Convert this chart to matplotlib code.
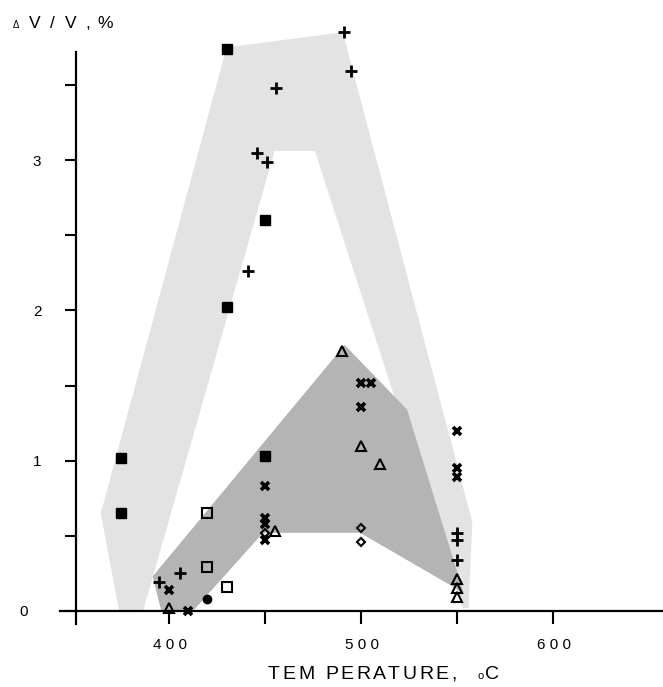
import matplotlib
matplotlib.use("Agg")
import matplotlib.pyplot as plt

FONT = "Liberation Sans"
W, H = 663, 687

# shaded bands (temperature, dV/V %)
light_x = [374, 364.5, 430, 490.5, 558, 556, 553, 476, 455, 386.5]
light_y = [0, 0.65, 3.75, 3.85, 0.59, 0.02, 0.02, 3.06, 3.06, 0]
dark_x = [391.5, 396, 412.5, 449, 499.5, 553.5, 524, 491.5]
dark_y = [0.23, 0, 0, 0.52, 0.52, 0.12, 1.34, 1.77]

# measured points by symbol
sqf_x = [430, 450, 430, 375, 375, 450]
sqf_y = [3.74, 2.60, 2.02, 1.02, 0.65, 1.03]
plus_x = [491, 495, 456, 446, 451, 441, 395, 405.5, 550, 550, 550]
plus_y = [3.85, 3.59, 3.48, 3.05, 2.99, 2.26, 0.19, 0.25, 0.52, 0.47, 0.34]
cross_x = [400, 410, 450, 450, 450, 450, 500, 505, 500, 550, 550, 550]
cross_y = [0.14, 0.0, 0.83, 0.62, 0.58, 0.47, 1.52, 1.52, 1.36, 1.20, 0.95, 0.89]
tri_x = [400, 490, 500, 510, 455, 550, 550, 550]
tri_y = [0.02, 1.73, 1.10, 0.98, 0.53, 0.21, 0.15, 0.09]
dia_x = [450, 500, 500]
dia_y = [0.52, 0.55, 0.46]
sqo_x = [420, 420, 430]
sqo_y = [0.65, 0.29, 0.16]
dot_x = [420]
dot_y = [0.08]

xticks = [400, 450, 500, 550, 600]
xlabels = {400: "4 0 0", 500: "5 0 0", 600: "6 0 0"}
yticks = [0, 0.5, 1, 1.5, 2, 2.5, 3, 3.5]
ylabels = {0: "0", 1: "1", 2: "2", 3: "3"}

fig = plt.figure(figsize=(W / 100, H / 100), dpi=100)
ax = fig.add_axes([0, 0, 1, 1])
ax.patch.set_alpha(0)
ax.set_xlim(312, 657.3)
ax.set_ylim(-0.506, 4.065)

ax.fill(light_x, light_y, color="#e3e3e3", lw=0, zorder=1)
ax.fill(dark_x, dark_y, color="#b4b4b4", lw=0, zorder=1.5)

kw = dict(ls="none", color="black", zorder=3, clip_on=False)
ax.plot(sqf_x, sqf_y, marker="s", ms=6.5, mfc="black", mec="black", **kw)
ax.plot(plus_x, plus_y, marker="+", ms=8, mew=2, **kw)
ax.plot(cross_x, cross_y, marker="x", ms=6, mew=2.6, **kw)
ax.plot(tri_x, tri_y, marker="^", ms=6.5, mfc="none", mew=1.5, **kw)
ax.plot(dia_x, dia_y, marker="D", ms=4.5, mfc="none", mew=1.5, **kw)
ax.plot(sqo_x, sqo_y, marker="s", ms=6.5, mfc="none", mew=1.5, **kw)
ax.plot(dot_x, dot_y, marker="o", ms=6, mfc="black", **kw)

# axes: spines crossing like the original drawing
for s in ["top", "right"]:
    ax.spines[s].set_visible(False)
ax.spines["left"].set_position(("data", 351.6))
ax.spines["left"].set_bounds(-0.09, 3.72)
ax.spines["bottom"].set_position(("data", 0))
ax.spines["bottom"].set_bounds(343, 657)
for s in ["left", "bottom"]:
    ax.spines[s].set_linewidth(1.6)
    ax.spines[s].set_zorder(2.5)

ax.set_xticks(xticks)
ax.set_yticks(yticks)
ax.tick_params(axis="x", direction="out", length=9.4, width=1.5,
               labelbottom=False)
ax.tick_params(axis="y", direction="out", length=8, width=1.5,
               labelleft=False)


def px(x, y):
    return x / W, 1 - y / H


def data_px(x, y):
    X, Y = ax.transData.transform((x, y))
    return X, H - Y


# tick labels
for v, lab in xlabels.items():
    X, _ = data_px(v, 0)
    fig.text(*px(X + 1, 649), lab, fontsize=11, family=FONT,
             ha="center", va="baseline")
for v, lab in ylabels.items():
    _, Y = data_px(0, v)
    xc = 24 if v == 0 else 37
    fig.text(*px(xc, Y + 5.5), lab, fontsize=11, family=FONT,
             ha="center", va="baseline")

renderer = fig.canvas.get_renderer()


def spaced_text(x0, y0, s, size, gap):
    x = x0
    for ch in s:
        t = fig.text(*px(x, y0), ch, fontsize=size, family=FONT,
                     ha="left", va="baseline")
        x += t.get_window_extent(renderer).width + gap
    return x


# x axis title, letter-spaced like the scan
spaced_text(268, 679, "TEM", 14, 2.5)
spaced_text(325, 679, "PERATURE,", 14, 2.5)
fig.text(*px(477, 679), "o", fontsize=8, family=FONT, ha="left", va="baseline")
fig.text(*px(485, 679), "C", fontsize=14, family=FONT, ha="left", va="baseline")

# y axis title
fig.text(*px(13, 28), "Δ", fontsize=7, family=FONT, ha="left", va="baseline")
for xc, ch in zip([29, 50, 65, 85, 97], ["V", "/", "V", ",", "%"]):
    fig.text(*px(xc, 28), ch, fontsize=12.5, family=FONT,
             ha="left", va="baseline")

fig.savefig("out.png", dpi=100)
